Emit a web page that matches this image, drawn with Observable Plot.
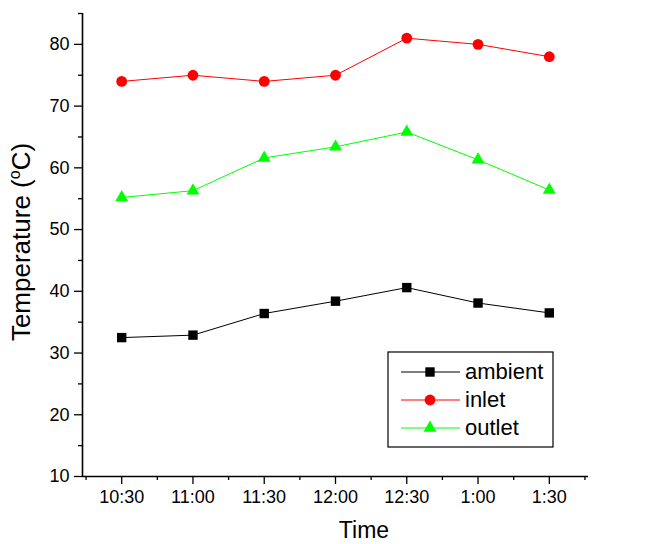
<!DOCTYPE html>
<html>
<head>
<meta charset="utf-8">
<script src="https://cdn.jsdelivr.net/npm/d3@7"></script>
<script src="https://cdn.jsdelivr.net/npm/@observablehq/plot@0.6"></script>
<style>
  body { margin: 0; background: #fff; }
  #chart { position: relative; width: 648px; height: 544px; }
</style>
</head>
<body>
<div id="chart"></div>
<script>
// ---- data ----
const times = ["10:30", "11:00", "11:30", "12:00", "12:30", "1:00", "1:30"];
const ambient = [32.5, 32.9, 36.4, 38.4, 40.6, 38.1, 36.5];
const inlet = [74, 75, 74, 75, 81, 80, 78];
const outlet = [55.2, 56.3, 61.6, 63.4, 65.8, 61.3, 56.4];
const seriesNames = ["ambient", "inlet", "outlet"];
const seriesColors = ["#000000", "#ff0000", "#00ff00"];
const seriesSymbols = ["square", "circle", "triangle"];
const yMajorTicks = [10, 20, 30, 40, 50, 60, 70, 80];
const yMinorTicks = [15, 25, 35, 45, 55, 65, 75, 85];
const xDomain = [-0.55, 6.55];
const yDomain = [10, 85];

const seriesValues = [ambient, inlet, outlet];
const rows = [];
seriesNames.forEach((s, k) => {
  seriesValues[k].forEach((v, i) => rows.push({ i, time: times[i], value: v, series: s }));
});
const xMajor = times.map((_, i) => i);
const xMinor = d3.range(-0.5, times.length, 1);

const font = "'Liberation Sans', Arial, sans-serif";
const rSizes = { ambient: 5.3, inlet: 5.4, outlet: 4.8 };
const tickFont = 18;

const marks = [
  Plot.axisY({ ticks: yMajorTicks, tickSize: 8, tickPadding: 5, fontSize: tickFont, label: null, strokeWidth: 1.3 }),
  Plot.axisY({ ticks: yMinorTicks, tickSize: 4, tickFormat: () => "", label: null, strokeWidth: 1.3 }),
  Plot.axisX({ ticks: xMajor, tickSize: 8, tickPadding: 6, fontSize: tickFont, tickFormat: i => times[i], label: null, strokeWidth: 1.3 }),
  Plot.axisX({ ticks: xMinor, tickSize: 4, tickFormat: () => "", label: null, strokeWidth: 1.3 }),
  Plot.ruleX([xDomain[0]], { stroke: "#000", strokeWidth: 1.6 }),
  Plot.ruleY([yDomain[0]], { stroke: "#000", strokeWidth: 1.6 })
];
seriesNames.forEach((s, k) => {
  const data = rows.filter(d => d.series === s);
  marks.push(Plot.line(data, { x: "i", y: "value", stroke: seriesColors[k], strokeWidth: 1 }));
  marks.push(Plot.dot(data, { x: "i", y: "value", symbol: seriesSymbols[k], fill: seriesColors[k], stroke: "none", r: rSizes[s] }));
});

const plot = Plot.plot({
  width: 648,
  height: 544,
  marginLeft: 82,
  marginRight: 60,
  marginTop: 13,
  marginBottom: 68,
  style: { fontFamily: font, fontSize: tickFont + "px", color: "#000", background: "#fff", overflow: "visible" },
  x: { type: "linear", domain: xDomain },
  y: { domain: yDomain },
  marks
});
document.getElementById("chart").appendChild(plot);

const svg = d3.select(plot);

// ---- axis titles ----
const yt = svg.append("text")
  .attr("transform", "translate(30,242) rotate(-90)")
  .attr("text-anchor", "middle")
  .attr("font-family", font)
  .attr("font-size", 26)
  .attr("fill", "#000");
yt.append("tspan").text("Temperature (");
yt.append("tspan").attr("font-size", 16).attr("dy", -10).text("o");
yt.append("tspan").attr("dy", 10).text("C)");

svg.append("text")
  .attr("x", 364)
  .attr("y", 538)
  .attr("text-anchor", "middle")
  .attr("font-family", font)
  .attr("font-size", 23)
  .attr("fill", "#000")
  .text("Time");

// ---- legend ----
const lg = svg.append("g").attr("font-family", font).attr("font-size", 22);
lg.append("rect").attr("x", 388).attr("y", 352).attr("width", 165).attr("height", 95)
  .attr("fill", "#fff").attr("stroke", "#000").attr("stroke-width", 1.2);
seriesNames.forEach((s, k) => {
  const y = 372 + k * 28;
  lg.append("line").attr("x1", 401).attr("x2", 460).attr("y1", y).attr("y2", y)
    .attr("stroke", seriesColors[k]).attr("stroke-width", 1);
  const sym = { square: d3.symbolSquare, circle: d3.symbolCircle, triangle: d3.symbolTriangle }[seriesSymbols[k]];
  const r = rSizes[s];
  lg.append("path").attr("transform", `translate(430,${y})`)
    .attr("d", d3.symbol(sym, Math.PI * r * r)())
    .attr("fill", seriesColors[k]);
  lg.append("text").attr("x", 465).attr("y", y + 7).attr("text-anchor", "start").attr("fill", "#000").text(s);
});
</script>
</body>
</html>
